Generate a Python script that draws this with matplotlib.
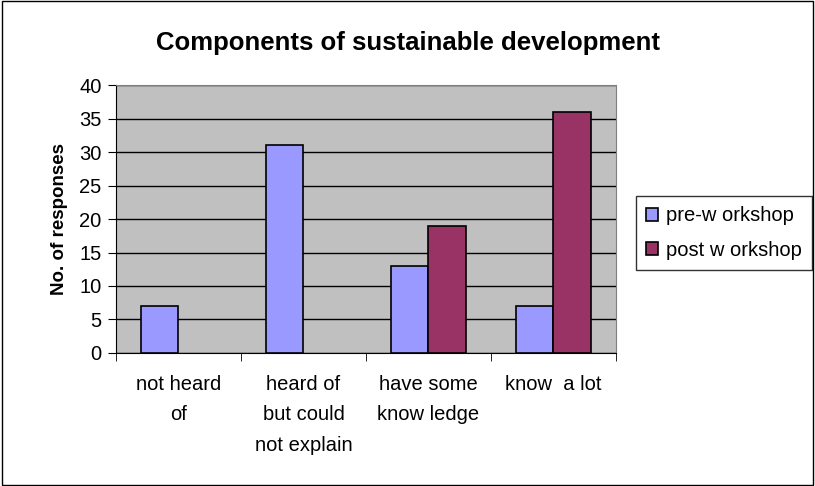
import matplotlib.pyplot as plt
import matplotlib.patches as patches
import numpy as np

categories = ["not heard\nof", "heard of\nbut could\nnot explain", "have some\nknow ledge", "know  a lot"]
pre_workshop = [7, 31, 13, 7]
post_workshop = [np.nan, np.nan, 19, 36]
series_names = ["pre-w orkshop", "post w orkshop"]

plt.rcParams['font.family'] = ['Liberation Sans', 'DejaVu Sans']

fig = plt.figure(figsize=(8.15, 4.86), dpi=100)
ax = fig.add_axes([0.1423, 0.2737, 0.6135, 0.5513])
ax.set_facecolor('#C0C0C0')

x = np.arange(len(categories))
w = 0.3
ax.bar(x - w / 2, pre_workshop, w, color='#9999FF', edgecolor='black', linewidth=1.2,
       label=series_names[0], zorder=3)
ax.bar(x + w / 2, post_workshop, w, color='#993366', edgecolor='black', linewidth=1.2,
       label=series_names[1], zorder=3)

ax.set_xlim(-0.5, len(categories) - 0.5)
ax.set_ylim(0, 40)
ax.set_yticks(np.arange(0, 41, 5))
ax.yaxis.grid(True, color='black', linewidth=1)
ax.set_axisbelow(True)

ax.set_xticks(x)
ax.set_xticklabels(categories, fontsize=14.5, linespacing=1.75)
ax.set_xticks(np.arange(-0.5, len(categories), 1), minor=True)
ax.tick_params(axis='x', which='major', length=0, pad=16)
ax.tick_params(axis='x', which='minor', length=5.5, direction='out')
ax.tick_params(axis='y', labelsize=14.5, length=5.5, pad=5, direction='out')

for s in ['top', 'right']:
    ax.spines[s].set_color('#808080')
for s in ['left', 'bottom']:
    ax.spines[s].set_color('black')

ax.set_ylabel('No. of responses', fontsize=13.5, fontweight='bold', labelpad=8)
fig.text(0.5, 0.911, 'Components of sustainable development', fontsize=18.5,
         fontweight='bold', ha='center', va='center')

leg = ax.legend(loc='center left', bbox_to_anchor=(1.04, 0.448), fontsize=14.5,
                frameon=True, fancybox=False, edgecolor='black', handlelength=0.6,
                handleheight=0.6, handletextpad=0.4, borderpad=0.5, labelspacing=0.75,
                borderaxespad=0)
leg.get_frame().set_linewidth(1)

fig.patches.append(patches.Rectangle((0.002, 0.003), 0.995, 0.994, transform=fig.transFigure,
                                     fill=False, edgecolor='black', linewidth=1))

fig.savefig('out.png', dpi=100)
